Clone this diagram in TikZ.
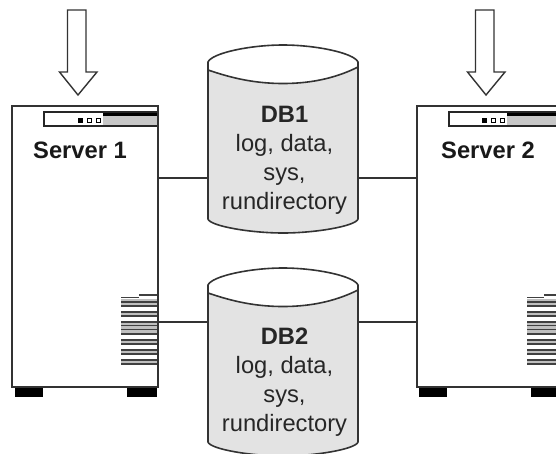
\documentclass[tikz,border=0pt]{standalone}
\usepackage{fontspec}
\setmainfont{Liberation Sans}
\usetikzlibrary{calc}
\tikzset{
  ln/.style={draw=black!80,line width=1.6pt},
  server/.style={draw=black!80,line width=1.6pt,fill=white,inner sep=0pt,minimum width=146pt,minimum height=281pt,rectangle},
  dbbody/.style={draw=black!80,line width=1.6pt,fill=black!11},
  dbtop/.style={draw=black!80,line width=1.6pt,fill=white},
  lab/.style={font=\fontsize{23.7}{29}\selectfont\bfseries,inner sep=0pt,text=black!90},
  dblab/.style={font=\fontsize{23.7}{29}\selectfont,align=center,inner sep=0pt,text=black!85},
  foot/.style={fill=black},
  vent/.style={draw=black!75,line width=1.6pt},
  arrowshape/.style={draw=black!80,line width=1.4pt,fill=white,line join=miter},
  panel/.style={draw=black!85,line width=1.3pt,fill=white},
  dot/.style={draw=black,line width=.9pt,fill=white}
}
\newcommand{\dbcyl}[2]{% name, y-offset
  \node[minimum width=150pt,minimum height=190pt,inner sep=0pt] (#1) at (283,{140+#2}) {};
  \draw[dbbody] (208,{63+#2}) -- (208,{219+#2})
    .. controls (210,{226+#2}) and (250,{233+#2}) .. (283,{233+#2})
    .. controls (316,{233+#2}) and (356,{226+#2}) .. (358,{219+#2}) -- (358,{63+#2}) -- cycle;
  \draw[dbtop] (208,{70+#2}) -- (208,{62+#2})
    .. controls (212,{53+#2}) and (250,{45+#2}) .. (283,{45+#2})
    .. controls (316,{45+#2}) and (354,{53+#2}) .. (358,{62+#2}) -- (358,{67+#2})
    .. controls (340,{76+#2}) and (316,{83.5+#2}) .. (283,{83.5+#2})
    .. controls (250,{83.5+#2}) and (226,{76+#2}) .. cycle;
}
\newcommand{\rack}[1]{% x offset of server
  \fill[black!22] ({#1+91},113) rectangle ({#1+146},125);
  \draw[line width=2.4pt,black] ({#1+91},114.5) -- ({#1+146},114.5);
  \fill[black] ({#1+65.5},117.5) rectangle ({#1+71},122.5);
  \draw[dot] ({#1+75},118) rectangle ({#1+79},122);
  \draw[dot] ({#1+84.5},118) rectangle ({#1+88},122);
}
\newcommand{\vents}[3]{% x start, stub start, x end
  \draw[vent,line width=1.3pt] (#2,295) -- (#3,295);
  \fill[black!25] (#1,299) rectangle (#3,307);
  \fill[black!25] (#1,311) rectangle (#3,317);
  \fill[black!25] (#1,321) rectangle (#3,335);
  \fill[black!25] (#1,339) rectangle (#3,345);
  \fill[black!25] (#1,349) rectangle (#3,355);
  \fill[black!25] (#1,359) rectangle (#3,365);
  \draw[vent] (#1,297.5) -- (#2,297.5);
  \foreach \y in {302,306,312,316,322,325.5,329.5,334,340,344,350,354,360,364} {
    \draw[vent] (#1,\y) -- (#3,\y);}
}
\begin{document}
\begin{tikzpicture}[x=1pt,y=-1pt]
\useasboundingbox (0,0) rectangle (556,453);
\clip (0,0) rectangle (556,453);
% servers
\node[server] (s1) at (85,246.5) {};
\node[server,minimum width=190pt] (s2) at (512,246.5) {};
\fill[foot] (15,388) rectangle (43,397);
\fill[foot] (127,388) rectangle (157,397);
\fill[foot] (419,388) rectangle (447,397);
\fill[foot] (531,388) rectangle (556,397);
% panels
\node[panel,minimum width=114pt,minimum height=14pt,inner sep=0pt] (p1) at (101,119) {};
\node[panel,minimum width=130pt,minimum height=14pt,inner sep=0pt] (p2) at (514,119) {};
\rack{12}
\rack{416}
\fill[black!22] (540,113) rectangle (556,125);
\draw[line width=2.4pt,black] (540,114.5) -- (556,114.5);
\node[lab] (n1) at (80,150.5) {Server 1};
\node[lab] (n2) at (488,150.5) {Server 2};
\vents{121}{139}{158}
\vents{527}{544}{556}
\draw[ln] (158,106) -- (158,387);
% arrows
\draw[arrowshape] (67.5,10) -- (86,10) -- (86,72) -- (97,72) -- (78,95) -- (59.5,72) -- (67.5,72) -- cycle;
\draw[arrowshape] (475.5,10) -- (494,10) -- (494,72) -- (505,72) -- (486,95) -- (467.5,72) -- (475.5,72) -- cycle;
% databases
\dbcyl{d1}{0}
\dbcyl{d2}{223}
\node[dblab] (t1) at (284.5,160.5) {\textbf{DB1}\\log, data,\\sys,\\rundirectory};
\node[dblab] (t2) at (284.5,382.5) {\textbf{DB2}\\log, data,\\sys,\\rundirectory};
% connectors
\coordinate (c1) at (0,178);
\coordinate (c2) at (0,322);
\draw[ln] (s1.east |- c1) -- (d1.west |- c1);
\draw[ln] (d1.east |- c1) -- (s2.west |- c1);
\draw[ln] (s1.east |- c2) -- (d2.west |- c2);
\draw[ln] (d2.east |- c2) -- (s2.west |- c2);
\end{tikzpicture}
\end{document}
